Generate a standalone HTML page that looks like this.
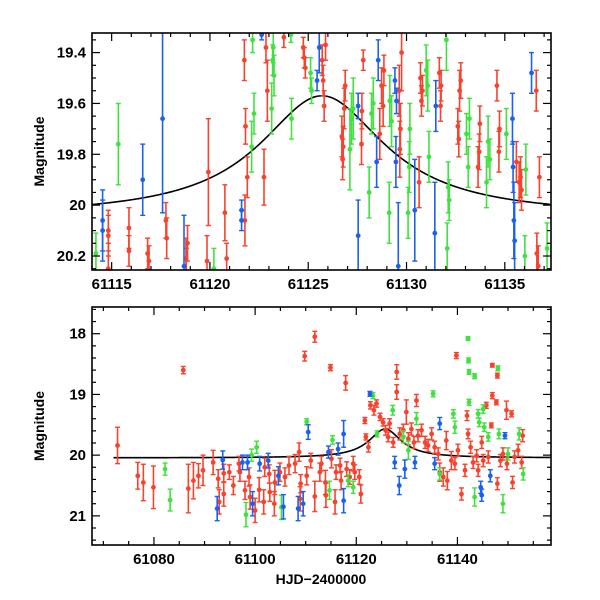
<!DOCTYPE html>
<html><head><meta charset="utf-8"><style>
body{margin:0;background:#fff;}
svg{display:block;font-family:"Liberation Sans",sans-serif;}
</style></head><body>
<svg id="c" width="600" height="600" viewBox="0 0 600 600"></svg>
<script>
// ---- data: [HJD-2400000, magnitude, error] ----
const topRed=[[61114.83,20.10,.08],[61114.83,20.12,.08],[61114.83,20.25,.1],[61115.88,20.09,.08],[61115.88,20.18,.06],[61116.83,20.19,.06],[61116.9,20.22,.06],[61117.76,20.06,.07],[61117.8,20.13,.08],[61118.78,20.21,.08],[61118.86,20.15,.07],[61118.8,20.27,.1],[61119.92,19.87,.21],[61119.85,20.22,.1],[61120.76,20.03,.11],[61120.85,20.21,.06],[61121.75,19.43,.08],[61121.81,19.69,.07],[61121.9,19.89,.08],[61121.78,20.06,.1],[61122.75,19.89,.11],[61122.85,19.38,.06],[61122.92,19.55,.12],[61123.76,19.34,.04],[61124.75,19.38,.04],[61124.8,19.42,.04],[61124.85,19.46,.04],[61125.71,19.43,.06],[61125.76,19.51,.06],[61125.81,19.61,.06],[61125.88,19.37,.06],[61126.71,19.73,.08],[61126.78,19.77,.08],[61126.83,19.62,.08],[61126.75,19.82,.08],[61126.88,19.53,.06],[61127.71,19.76,.08],[61127.8,19.43,.04],[61127.73,19.63,.07],[61128.64,19.72,.1],[61128.73,19.53,.07],[61128.81,19.61,.08],[61128.85,19.47,.06],[61129.66,19.78,.11],[61129.63,19.55,.1],[61129.75,19.40,.15],[61129.69,19.70,.1],[61130.64,19.91,.1],[61130.71,19.50,.06],[61130.76,19.59,.06],[61130.81,19.55,.06],[61131.67,19.48,.06],[61131.73,19.61,.06],[61131.76,19.53,.06],[61132.61,19.69,.07],[61132.7,19.55,.08],[61132.66,19.74,.07],[61132.76,19.51,.07],[61133.64,19.85,.08],[61133.73,19.68,.07],[61133.7,19.79,.07],[61134.6,19.53,.06],[61134.7,19.79,.08],[61134.73,19.70,.07],[61135.59,19.83,.08],[61135.73,19.91,.08],[61135.8,19.89,.08],[61135.85,19.94,.08],[61136.6,19.55,.08],[61136.76,19.89,.08],[61136.63,20.19,.08],[61136.7,20.24,.08]];
const topGreen=[[61114.2,20.19,.08],[61115.34,19.76,.16],[61120.2,20.25,.08],[61122.17,19.35,.05],[61122.24,19.64,.08],[61122.12,19.77,.1],[61123.14,19.62,.1],[61123.19,19.43,.06],[61123.26,19.49,.08],[61123.22,19.38,.06],[61124.15,19.66,.08],[61124.12,19.33,.03],[61125.12,19.48,.06],[61125.17,19.55,.05],[61127.12,19.78,.16],[61127.2,19.66,.1],[61127.29,19.62,.12],[61128.1,19.95,.1],[61128.22,19.64,.08],[61128.31,19.60,.1],[61129.12,20.03,.12],[61129.15,19.59,.1],[61129.24,19.67,.1],[61130.08,20.03,.1],[61130.14,19.85,.1],[61130.17,19.70,.1],[61131.0,19.47,.1],[61131.08,19.53,.1],[61131.14,19.81,.1],[61132.03,19.35,.12],[61132.12,19.93,.1],[61132.17,19.98,.08],[61132.07,20.17,.1],[61133.05,19.72,.08],[61133.14,19.85,.08],[61133.2,19.66,.08],[61134.07,19.91,.1],[61134.15,19.75,.1],[61134.24,19.82,.08],[61135.08,19.72,.1],[61136.07,19.86,.1],[61136.02,20.20,.08],[61137.15,20.17,.1]];
const topBlue=[[61114.54,20.06,.12],[61114.54,20.10,.12],[61116.58,19.90,.14],[61117.59,19.66,.37],[61118.68,20.24,.2],[61121.61,20.02,.04],[61121.61,20.06,.04],[61122.63,19.33,.02],[61125.45,19.51,.04],[61125.56,19.38,.1],[61127.54,20.12,.14],[61127.54,19.61,.05],[61128.56,19.43,.08],[61128.48,19.83,.1],[61129.41,19.51,.05],[61129.49,19.59,.05],[61129.46,19.83,.1],[61129.58,20.24,.25],[61130.42,20.02,.2],[61131.44,20.11,.2],[61131.49,19.61,.1],[61135.39,19.66,.1],[61135.42,19.85,.1],[61135.46,20.06,.15],[61135.5,20.14,.15],[61136.36,19.48,.08]];
const botRed=[[61072.8,19.84,.3],[61076.8,20.34,.22],[61077.9,20.45,.3],[61079.9,20.53,.35],[61085.8,18.60,.06],[61086.8,20.55,.4],[61087.8,20.42,.3],[61088.8,20.34,.2],[61089.7,20.25,.25],[61091.7,20.12,.2],[61092.7,20.39,.15],[61092.9,20.77,.2],[61093.8,20.64,.2],[61093.8,20.30,.15],[61094.9,20.28,.12],[61095.7,20.50,.15],[61096.8,20.14,.12],[61097.0,20.28,.15],[61098.0,20.58,.15],[61098.8,20.36,.15],[61099.0,20.69,.2],[61100.0,20.91,.2],[61100.8,20.57,.2],[61101.7,20.77,.2],[61101.9,20.20,.15],[61102.8,20.31,.15],[61102.9,20.61,.15],[61103.9,20.45,.2],[61103.8,20.80,.2],[61104.9,20.28,.15],[61105.9,20.36,.15],[61106.7,20.17,.15],[61107.9,20.14,.15],[61108.7,19.95,.15],[61108.9,20.72,.2],[61109.0,20.47,.15],[61109.8,18.37,.08],[61110.2,20.34,.15],[61111.0,20.09,.12],[61111.8,18.05,.09],[61111.8,20.68,.25],[61112.8,20.28,.15],[61113.1,20.14,.12],[61113.9,20.45,.2],[61114.0,20.66,.2],[61114.9,18.56,.05],[61115.1,20.06,.15],[61115.8,20.77,.2],[61116.0,20.28,.12],[61116.8,20.17,.12],[61117.0,20.42,.15],[61117.9,18.81,.12],[61118.1,20.23,.12],[61118.7,20.36,.12],[61119.4,20.14,.12],[61119.7,20.28,.12],[61120.6,20.36,.12],[61120.9,20.64,.15],[61121.7,19.43,.05],[61121.9,19.70,.05],[61122.4,19.87,.08],[61122.8,19.18,.06],[61123.5,19.26,.08],[61124.0,19.15,.06],[61124.7,19.37,.06],[61125.3,19.46,.06],[61125.8,19.59,.08],[61126.3,19.70,.08],[61126.6,19.48,.08],[61127.3,19.79,.08],[61128.0,18.63,.12],[61128.0,18.96,.12],[61128.6,19.65,.1],[61129.3,19.59,.1],[61129.9,19.29,.2],[61130.3,19.73,.1],[61130.9,19.57,.1],[61131.4,19.79,.1],[61131.9,19.10,.1],[61132.2,19.68,.1],[61132.9,19.59,.1],[61133.6,19.79,.1],[61134.2,19.84,.1],[61134.9,19.65,.1],[61135.5,19.87,.1],[61136.2,19.98,.1],[61136.5,20.28,.15],[61137.2,20.36,.15],[61137.8,19.76,.15],[61138.0,20.42,.15],[61138.8,20.09,.15],[61139.5,20.14,.1],[61139.8,18.36,.05],[61140.1,19.92,.1],[61140.8,20.64,.1],[61141.5,20.25,.1],[61141.9,19.35,.08],[61142.1,19.65,.08],[61142.6,19.87,.1],[61143.1,20.12,.1],[61143.8,20.01,.1],[61144.1,20.25,.1],[61144.8,19.79,.1],[61145.1,20.09,.1],[61145.7,19.18,.05],[61146.1,20.03,.1],[61146.7,19.51,.04],[61146.9,18.52,.03],[61146.9,19.02,.05],[61147.7,19.13,.04],[61147.9,18.69,.04],[61147.9,20.47,.1],[61148.5,20.09,.1],[61149.0,19.98,.1],[61149.7,19.26,.15],[61149.8,20.14,.1],[61150.7,19.32,.05],[61150.9,20.45,.1],[61151.3,20.03,.1],[61152.0,19.92,.1],[61152.7,20.12,.1],[61152.9,19.68,.1]];
const botGreen=[[61082.2,20.23,.1],[61083.2,20.74,.18],[61098.2,20.98,.2],[61099.3,20.0,.1],[61100.3,19.87,.1],[61105.2,20.86,.2],[61110.2,19.45,.05],[61115.3,19.75,.07],[61114.7,20.58,.15],[61118.4,20.42,.1],[61119.4,20.53,.1],[61123.3,19.02,.05],[61124.1,19.65,.05],[61127.2,19.26,.08],[61129.3,19.70,.1],[61130.3,19.92,.15],[61131.9,19.40,.1],[61135.2,18.99,.05],[61136.5,20.31,.1],[61139.2,19.32,.07],[61139.5,19.54,.1],[61142.1,18.08,.03],[61142.2,18.44,.04],[61142.3,18.63,.04],[61143.4,18.70,.04],[61142.3,19.13,.05],[61143.4,20.69,.15],[61144.1,19.32,.07],[61144.3,19.46,.07],[61145.1,19.24,.07],[61145.3,19.54,.07],[61146.1,19.70,.07],[61148.0,18.57,.04],[61148.2,19.65,.08],[61149.0,20.80,.15],[61150.0,19.98,.1],[61152.2,19.65,.1],[61153.0,20.31,.1]];
const botBlue=[[61092.5,20.88,.2],[61093.6,20.08,.15],[61097.5,20.12,.12],[61098.5,20.12,.12],[61099.5,20.80,.2],[61100.9,20.14,.12],[61102.6,20.09,.12],[61104.6,20.34,.15],[61105.6,20.85,.2],[61108.5,20.88,.2],[61109.5,20.80,.2],[61110.5,19.62,.12],[61114.5,19.95,.1],[61116.4,19.90,.1],[61117.5,19.65,.22],[61117.5,20.75,.2],[61122.7,18.99,.04],[61127.6,20.12,.1],[61128.5,20.50,.15],[61129.6,20.23,.15],[61131.6,20.12,.1],[61135.5,20.14,.1],[61136.5,19.48,.1],[61144.6,20.53,.1],[61144.8,20.66,.1],[61146.5,20.34,.1],[61149.4,19.68,.05]];
const topXTicks=[61115,61120,61125,61130,61135];
const topYTicks=[19.4,19.6,19.8,20,20.2];
const botXTicks=[61080,61100,61120,61140];
const botYTicks=[18,19,20,21];
// model curve parameters
const modelBase=20.045, modelAmp=0.475, modelT0=61125.7, modelWidth=3.9;

const NS="http://www.w3.org/2000/svg";
const svg=document.getElementById('c');
function el(tag,attrs,parent){const e=document.createElementNS(NS,tag);for(const k in attrs)e.setAttribute(k,attrs[k]);(parent||svg).appendChild(e);return e;}
const COL={red:'#f7422e',green:'#3fe23f',blue:'#1c60ee'};
function model(t){const u=(t-modelT0)/modelWidth;return modelBase-modelAmp/(1+u*u);}

function panel(cfg){
  const {name,L,R,T,B,x0,x1,y0,y1}=cfg;
  const sx=t=>L+(t-x0)/(x1-x0)*(R-L);
  const sy=m=>T+(m-y0)/(y1-y0)*(B-T);
  const g=el('g',{});
  
  
  const clipId=name+'-clip';
  const cp=el('clipPath',{id:clipId},g);el('rect',{x:L,y:T,width:R-L,height:B-T},cp);
  const plot=el('g',{'clip-path':'url(#'+clipId+')'},g);
  let d='';for(let t=cfg.cx0;t<=x1;t+=0.05){d+=(d?'L':'M')+sx(t).toFixed(2)+','+sy(model(t)).toFixed(2);}
  const curve=el('path',{d:d,fill:'none',stroke:'#000','stroke-width':1.6},plot);
  
  
  cfg.series.forEach(([arr,col,sname])=>{
    const sg=el('g',{stroke:COL[col],fill:COL[col]},plot);
    
    
    arr.forEach(p=>{
      const x=sx(p[0]),y=sy(p[1]),ya=sy(p[1]-p[2]),yb=sy(p[1]+p[2]);
      const pg=el('g',{},sg);
      
      
      el('line',{x1:x,x2:x,y1:ya,y2:yb,'stroke-width':1.6},pg);
      el('line',{x1:x-2.5,x2:x+2.5,y1:ya,y2:ya,'stroke-width':1.4},pg);
      el('line',{x1:x-2.5,x2:x+2.5,y1:yb,y2:yb,'stroke-width':1.4},pg);
      el('circle',{cx:x,cy:y,r:2.4,stroke:'none'},pg);
    });
  });
  el('rect',{x:L,y:T,width:R-L,height:B-T,fill:'none',stroke:'#000','stroke-width':1.6},g);
  const tk=el('g',{stroke:'#000','stroke-width':1.2},g);
  for(let t=Math.ceil(x0/cfg.xmin)*cfg.xmin;t<=x1;t+=cfg.xmin){
    const x=sx(t);const maj=Math.abs(t/cfg.xmaj-Math.round(t/cfg.xmaj))<1e-6;const len=maj?8:4;
    el('line',{x1:x,x2:x,y1:B,y2:B-len},tk);el('line',{x1:x,x2:x,y1:T,y2:T+len},tk);
  }
  for(let i=Math.ceil(y0/cfg.ymin-1e-6);i*cfg.ymin<=y1+1e-9;i++){
    const m=i*cfg.ymin;const y=sy(m);const maj=Math.abs(m/cfg.ymaj-Math.round(m/cfg.ymaj))<1e-6;const len=maj?8:4;
    el('line',{x1:L,x2:L+len,y1:y,y2:y},tk);el('line',{x1:R,x2:R-len,y1:y,y2:y},tk);
  }
  cfg.xt.forEach(t=>{const tx=el('text',{x:sx(t),y:B+19,'text-anchor':'middle','font-size':15,'font-weight':'bold'},g);tx.textContent=t;
    
    });
  cfg.yt.forEach(m=>{const tx=el('text',{x:L-6,y:sy(m)+5,'text-anchor':'end','font-size':15,'font-weight':'bold'},g);tx.textContent=String(m);
    
    });
  const yl=el('text',{x:0,y:0,transform:'translate(44,'+((T+B)/2)+') rotate(-90)','text-anchor':'middle','font-size':14,'font-weight':'bold'},g);
  yl.textContent='Magnitude';
  
  
}
panel({name:'top-panel',L:92,R:551,T:33,B:270,x0:61114.0,x1:61137.35,y0:19.323,y1:20.255,cx0:61114.0,
  xmaj:5,xmin:1,ymaj:0.2,ymin:0.05,xt:topXTicks,yt:topYTicks,
  series:[[topRed,'red','red-series'],[topGreen,'green','green-series'],[topBlue,'blue','blue-series']]});
panel({name:'bottom-panel',L:92,R:551,T:307,B:545,x0:61067.75,x1:61158.5,y0:17.56,y1:21.48,cx0:61072.0,
  xmaj:20,xmin:5,ymaj:1,ymin:0.2,xt:botXTicks,yt:botYTicks,
  series:[[botRed,'red','red-series'],[botGreen,'green','green-series'],[botBlue,'blue','blue-series']]});
const xl=el('text',{x:321,y:584,'text-anchor':'middle','font-size':14,'font-weight':'bold'});
xl.textContent='HJD\u22122400000';


</script>
</body></html>
